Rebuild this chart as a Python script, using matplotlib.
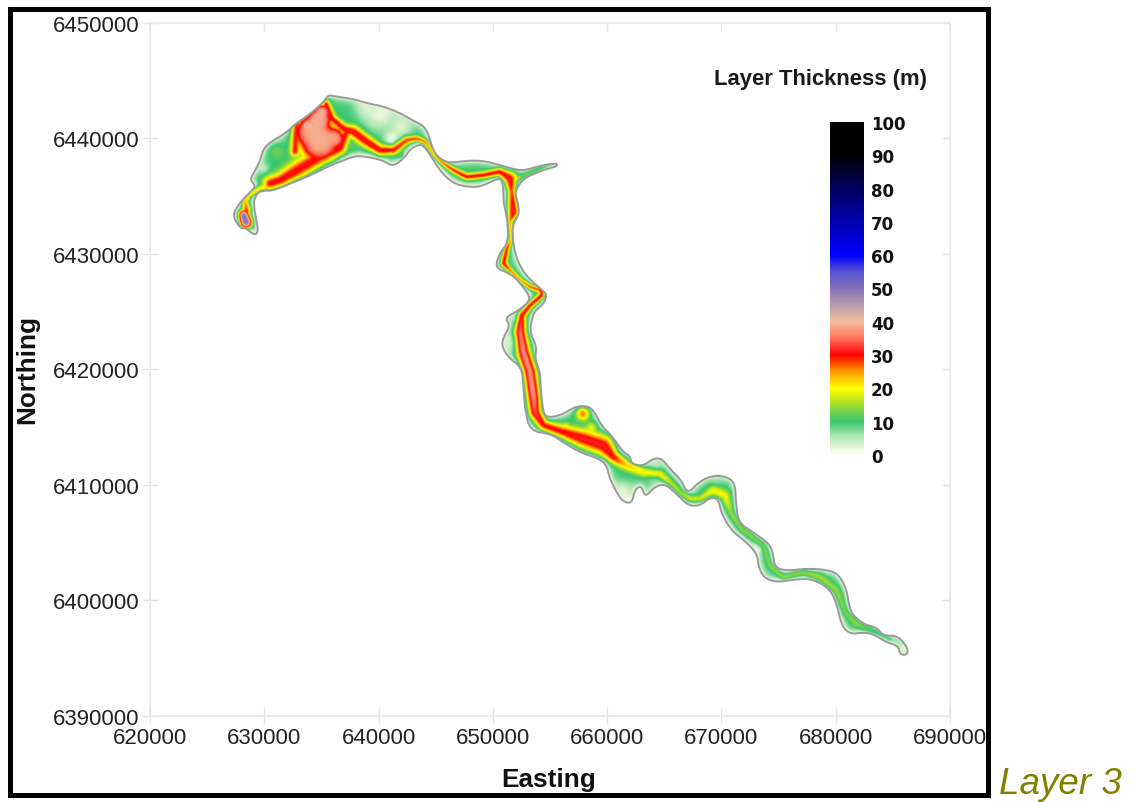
import numpy as np
import matplotlib
matplotlib.use("Agg")
import matplotlib.pyplot as plt
from matplotlib.colors import LinearSegmentedColormap, Normalize
from matplotlib.patches import Polygon, Rectangle
from matplotlib.path import Path

# ---- data (km easting, km northing) ----
outline = [
(635.6,6443.77),(636.19,6443.65),(637.79,6443.42),(638.96,6443.07),(640.42,6442.78),(641.87,6442.21),(643.04,6441.54),(643.92,6441.11),
(644.35,6440.39),(644.79,6438.94),(645.38,6438.22),(646.25,6437.88),(647.71,6438.08),(649.17,6438.08),(650.62,6437.70),(651.79,6437.36),
(652.67,6437.21),(654.13,6437.65),(655.58,6437.88),(655.64,6437.59),(654.71,6437.36),(653.54,6436.92),(652.67,6436.49),(652.14,6435.77),
(651.94,6435.19),(652.23,6434.33),(652.29,6433.46),(651.94,6432.88),(651.70,6432.16),(651.79,6431.0),(651.94,6430.14),(652.23,6429.27),
(652.81,6428.26),(653.69,6427.40),(654.56,6426.68),(654.71,6426.38),(654.42,6425.66),(653.69,6425.09),(653.40,6424.36),(653.25,6423.21),
(653.83,6422.05),(653.69,6420.90),(654.13,6419.74),(654.18,6418.59),(654.33,6416.86),(654.56,6415.85),(655.88,6415.99),(657.33,6416.86),
(658.5,6416.8),(659.08,6416.0),(659.52,6415.13),(660.4,6414.26),(661.42,6412.82),(662.0,6412.53),(662.15,6411.81),(663.17,6411.66),
(664.04,6412.3),(664.77,6412.3),(665.5,6411.4),(666.52,6410.37),(667.02,6409.21),(668.13,6410.37),(669.44,6410.86),(670.6,6410.66),
(671.19,6410.08),(671.27,6408.49),(671.48,6406.76),(672.79,6405.89),(674.25,6404.88),(674.54,6403.87),(674.69,6402.86),(675.71,6402.57),
(677.46,6402.77),(679.21,6402.66),(680.23,6402.29),(680.96,6400.99),(681.25,6398.97),(682.42,6397.95),(683.58,6397.67),(684.17,6396.95),
(685.48,6396.95),(686.35,6395.79),(686.21,6395.3),(685.63,6395.3),(685.48,6396.08),(684.46,6396.37),(683.29,6397.09),(682.42,6397.23),
(681.25,6397.09),(680.52,6397.81),(680.14,6399.54),(679.5,6400.99),(678.04,6401.85),(676.58,6401.85),(674.83,6401.56),(673.67,6401.99),
(673.23,6403.0),(673.14,6404.0),(672.21,6405.03),(670.9,6406.03),(670.02,6407.48),(669.73,6408.78),(669.0,6408.92),(668.12,6408.2),
(667.1,6408.2),(665.94,6409.36),(665.06,6410.08),(664.19,6409.88),(663.31,6408.92),(663.02,6409.93),(662.44,6409.65),(662.15,6408.35),
(661.27,6408.64),(660.69,6409.65),(660.25,6410.51),(659.96,6411.67),(659.38,6412.24),(657.63,6412.82),(656.17,6413.68),(655.15,6414.4),
(653.25,6414.69),(652.81,6416.57),(652.67,6418.59),(652.52,6420.18),(651.35,6421.05),(650.77,6422.05),(650.92,6422.78),(651.5,6423.79),
(651.06,6424.51),(652.23,6425.09),(653.25,6425.95),(653.1,6426.53),(652.67,6427.1),(651.94,6427.97),(651.21,6428.41),(650.19,6428.84),
(650.63,6430.14),(651.35,6431.0),(651.27,6433.02),(650.92,6434.47),(650.92,6435.91),(650.62,6436.63),(649.46,6436.06),(648.58,6435.77),
(647.12,6435.91),(646.25,6436.35),(645.38,6437.21),(644.65,6438.37),(644.06,6439.23),(643.63,6439.52),(642.75,6439.09),(642.31,6438.37),
(641.29,6437.56),(640.42,6438.08),(639.25,6438.37),(638.08,6438.51),(637.21,6438.22),(635.75,6437.65),(634.29,6436.92),(632.54,6436.2),
(630.79,6435.48),(629.77,6435.48),(629.33,6435.19),(629.04,6434.47),(629.28,6433.03),(629.48,6432.02),(629.19,6431.58),(628.31,6432.3),
(628.02,6432.16),(627.44,6432.88),(627.29,6433.6),(628.02,6434.61),(628.6,6435.19),(629.04,6435.63),(629.19,6435.91),(628.75,6436.49),
(629.19,6437.21),(629.63,6438.08),(629.92,6439.09),(630.5,6439.67),(631.96,6440.53),(632.69,6441.25),(634.0,6442.12),(635.17,6443.13),
]

# main channel: easting, northing, thickness (m), half-width (km)
thalweg = [
(635.40,6442.99,32,.3),(635.9,6441.69,32,.33),(636.92,6440.82,32,.38),(637.79,6440.53,32,.5),(638.96,6439.67,32,.5),(640.12,6438.94,32,.42),
(641.29,6438.94,31,.36),(642.46,6439.81,30,.3),(643.33,6439.95,32,.2),(644.06,6439.67,31,.18),(644.79,6438.66,29,.16),(645.52,6437.93,31,.18),
(646.54,6437.21,32,.22),(647.71,6436.63,33,.25),(649.17,6436.78,33,.25),(650.62,6437.07,32,.3),(651.5,6436.49,32,.55),(651.65,6435.36,30,.3),
(651.79,6433.6,33,.5),(651.5,6432.74,28,.2),(651.65,6431.29,28,.16),(651.21,6430.43,32,.25),(650.92,6429.13,33,.26),(651.5,6428.55,32,.17),
(652.38,6427.69,30,.17),(653.25,6427.11,31,.19),(654.27,6426.82,33,.22),(654.27,6426.38,33,.25),(653.25,6425.52,32,.27),(652.52,6424.65,32,.33),
(652.38,6423.21,36,.5),(652.67,6421.48,38,.56),(653.25,6419.74,38,.58),(653.54,6417.72,38,.58),(653.69,6416.28,34,.55),(654.42,6415.13,31,.42),
(656.17,6414.55,31,.55),(657.92,6413.97,32,.78),(659.67,6413.39,32,.85),(660.54,6412.38,31,.48),(661.71,6411.66,23,.45),(663.17,6411.09,21,.42),
(664.63,6410.94,20,.36),(665.65,6410.07,17,.26),(666.38,6409.35,16,.26),(667.25,6408.78,18,.26),(668.13,6408.78,18,.26),(669.29,6409.5,20,.45),
(670.31,6409.07,20,.45),(670.81,6407.62,15,.3),(671.77,6406.18,15,.26),(673.67,6404.74,14,.22),(674.25,6403.0,15,.2),(675.42,6401.99,16,.2),
(677.17,6402.43,15,.24),(678.63,6402.0,16,.32),(680.08,6400.84,15,.32),(680.81,6398.96,14,.26),(681.83,6397.95,15,.3),(683.58,6397.23,11,.25),
(684.75,6396.66,10,.18),
]
south_band = [(630.5,6436.06,31,.6),(631.4,6436.35,31,.62),(633.13,6437.36,31,.8),(634.88,6438.37,31,.75),(636.625,6439.09,31,.5),(637.15,6440.39,31,.4)]
lake_west = [(632.78,6441.3,30,.36),(632.69,6438.8,31,.4)]
west_arm = [(630.79,6435.91,24,.22),(629.63,6435.63,24,.22),(628.6,6435.05,25,.22),(628.31,6434.47,26,.25),(628.46,6433.75,30,.32)]
east_arm = [(651.9,6436.4,20,.3),(652.52,6436.63,14,.22),(654.13,6437.36,13,.18),(655.3,6437.75,8,.12)]
lake = [(635.0,6442.2,39,.75),(634.73,6441.53,39,1.2),(634.29,6440.53,39,1.72),(634.88,6439.72,39,1.85),(636.04,6439.96,38,1.0)]
west_pool = [(628.2,6433.3,51,.42),(628.4,6432.7,51,.5)]
spots = [(633.71,6441.11,46,.5),(657.86,6416.14,27,.55),(656.4,6414.98,22,.38),(641.87,6438.51,13,.3),
         (631.52,6437.5,12,.35),(637.79,6439.38,12,.5),(631.08,6438.8,13,.6),(658.6,6414.9,20,.5)]
# pale, thin patches: easting, northing, thickness (m), radius (km)
pale = [(640.12,6442.12,2,1.5),(642.0,6441.0,3,1.0),(641.15,6439.95,1,.6),(638.96,6442.7,3,.9),(629.9,6437.36,4,.45),
        (631.0,6440.0,6,.6),(651.5,6422.34,3,1.0),(651.79,6424.36,4,.5),(661.42,6409.36,2.5,.9),(661.71,6408.64,1,.45),(664.04,6411.09,4,.8),
        (664.19,6411.81,4,.4),(673.08,6404.45,2,.5),(685.92,6395.79,2,.3),(669.44,6410.37,6,.6),(661.42,6413.0,3,.3),(654.5,6437.5,6,.6)]

ramp_values = [0,3,6,10,13,16,20,25,30,35,40,45,50,55,60,70,80,90,100]
ramp_colors = ['#fffff0','#dcf3d0','#a6e4b0','#38c870','#74d050','#b4e420','#ffff00','#ff9c00','#ff0000','#ff7058','#f6bc9c',
               '#b89cac','#8470b8','#5454d0','#0000ff','#0000b0','#000060','#000000','#000000']
x_ticks = [620000,630000,640000,650000,660000,670000,680000,690000]
y_ticks = [6390000,6400000,6410000,6420000,6430000,6440000,6450000]
bar_ticks = list(range(0,101,10))

# ---- thickness field ----
step = 0.06
gx = np.arange(626.5, 687.2, step)
gy = np.arange(6394.6, 6444.5, step)
X, Y = np.meshgrid(gx, gy)
poly = np.array(outline)
# round the hand-read corners of the outline
for _ in range(2):
    nxt = np.roll(poly, -1, axis=0)
    poly = np.column_stack([0.75*poly+0.25*nxt, 0.25*poly+0.75*nxt]).reshape(-1, 2)
path = Path(np.vstack([poly, poly[0]]), closed=True)
P = np.column_stack([X.ravel(), Y.ravel()])
inside = path.contains_points(P)

def seg_dist(px, py, a, b):
    d = b - a
    t = np.clip(((px-a[0])*d[0]+(py-a[1])*d[1])/max(d@d, 1e-9), 0, 1)
    return np.hypot(px-(a[0]+t*d[0]), py-(a[1]+t*d[1])), t

edge = np.full(P.shape[0], 1e9)
closed = np.vstack([poly, poly[0]])
for a, b in zip(closed[:-1], closed[1:]):
    edge = np.minimum(edge, seg_dist(P[:,0], P[:,1], a, b)[0])
keep = inside | (edge < 0.5)
px, py, ed = P[keep,0], P[keep,1], np.where(inside[keep], edge[keep], 0)

bg = 10.0*(1-np.exp(-ed/0.28))
for e, n, v, r in pale:
    g = np.exp(-(np.hypot(px-e, py-n)/r)**2)
    bg = bg*(1-g) + np.minimum(bg, v)*g
val = bg.copy()

def stroke(pts, power):
    global val
    pts = np.array(pts, float)
    for p, q in zip(pts[:-1], pts[1:]):
        d, t = seg_dist(px, py, p[:2], q[:2])
        T = p[2]+(q[2]-p[2])*t
        w = p[3]+(q[3]-p[3])*t
        val = np.maximum(val, bg+(T-bg)*np.exp(-(d/w)**power))

stroke(thalweg, 2)
stroke(south_band, 2)
stroke(lake_west, 2)
stroke(west_arm, 2)
stroke(east_arm, 2)
stroke(lake, 4)
stroke(west_pool, 3)
for e, n, v, r in spots:
    val = np.maximum(val, bg+(v-bg)*np.exp(-(np.hypot(px-e, py-n)/r)**2))

# soften: the source map is a blurred raster
full = np.zeros(P.shape[0]); full[keep] = val
wgt = np.zeros(P.shape[0]); wgt[keep] = 1
full = full.reshape(X.shape); wgt = wgt.reshape(X.shape)
kern = np.array([1,2,3,4,3,2,1], float); kern /= kern.sum()
def blur(a):
    a = np.apply_along_axis(lambda r: np.convolve(r, kern, mode='same'), 0, a)
    return np.apply_along_axis(lambda r: np.convolve(r, kern, mode='same'), 1, a)
soft = blur(full)/np.maximum(blur(wgt), 1e-6)
field = np.ma.masked_where(wgt == 0, soft)

# ---- figure ----
W, H = 1133, 803
fig = plt.figure(figsize=(W/100, H/100), dpi=100, facecolor='white')
ax = fig.add_axes([150/W, 1-717/H, 800/W, 693/H])
plt.rcParams['font.family'] = ['Liberation Sans', 'DejaVu Sans']

stops = [(v/100, c) for v, c in zip(ramp_values, ramp_colors)]
cmap = LinearSegmentedColormap.from_list('thick', stops, N=1024)
norm = Normalize(0, 100)
im = ax.imshow(field, origin='lower', cmap=cmap, norm=norm, aspect='auto', interpolation='bilinear',
               extent=[(gx[0]-step/2)*1000, (gx[-1]+step/2)*1000, (gy[0]-step/2)*1000, (gy[-1]+step/2)*1000])
edge_patch = Polygon(poly*1000, closed=True, fill=False, edgecolor='#9a9a9a', linewidth=1.4, zorder=3, joinstyle='round')
ax.add_patch(edge_patch)
clip = Polygon(poly*1000, closed=True, transform=ax.transData)
im.set_clip_path(clip)

ax.set_xlim(620000, 690000)
ax.set_ylim(6390000, 6450000)
ax.set_xticks(x_ticks)
ax.set_yticks(y_ticks)
ax.set_xticklabels([str(v) for v in x_ticks])
ax.set_yticklabels([str(v) for v in y_ticks])
for s in ax.spines.values():
    s.set_color('#e8e8e8')
    s.set_linewidth(1.2)
ax.tick_params(axis='both', which='major', direction='inout', length=11.5, width=1.0, color='#e4e4e4',
               labelsize=16, labelcolor='#222222', pad=2)
for t in ax.get_xticklabels()+ax.get_yticklabels():
    t.set_family('Liberation Sans')
sec_x = ax.secondary_xaxis('top')
sec_x.set_xticks(x_ticks)
sec_x.tick_params(direction='in', length=5.5, width=1.0, color='#e4e4e4', labeltop=False)
sec_x.spines['top'].set_visible(False)
sec_y = ax.secondary_yaxis('right')
sec_y.set_yticks(y_ticks)
sec_y.tick_params(direction='in', length=5.5, width=1.0, color='#e4e4e4', labelright=False)
sec_y.spines['right'].set_visible(False)

fig.text(549/W, 1-780/H, 'Easting', family='Liberation Sans', fontweight='bold', fontsize=18.8, ha='center', va='center', color='#111111')
fig.text(27/W, 1-370/H, 'Northing', family='Liberation Sans', fontweight='bold', fontsize=18.8, rotation=90, ha='center', va='center', color='#111111')
fig.text(820/W, 1-80/H, 'Layer Thickness (m)', family='Liberation Sans', fontweight='bold', fontsize=15.8, ha='center', va='center', color='#1a1a1a')
fig.text(999/W, 1-794/H, 'Layer 3', family='Liberation Sans', style='italic', fontsize=26.5, color='#808000', ha='left', va='baseline')

cax = fig.add_axes([830/W, 1-456/H, 34/W, 333/H])
cb = fig.colorbar(im, cax=cax, ticks=bar_ticks)
cb.outline.set_visible(False)
cb.ax.tick_params(length=0, pad=5)
for t in cb.ax.get_yticklabels():
    t.set_family('DejaVu Sans')
    t.set_fontweight('bold')
    t.set_fontsize(12)
    t.set_color('#111111')

frame = Rectangle((10/W, 1-795.5/H), 977.5/W, 786/H, transform=fig.transFigure, fill=False, edgecolor='black', linewidth=3.6, zorder=20)
fig.add_artist(frame)
fig.savefig('out.png', dpi=100, facecolor='white')
